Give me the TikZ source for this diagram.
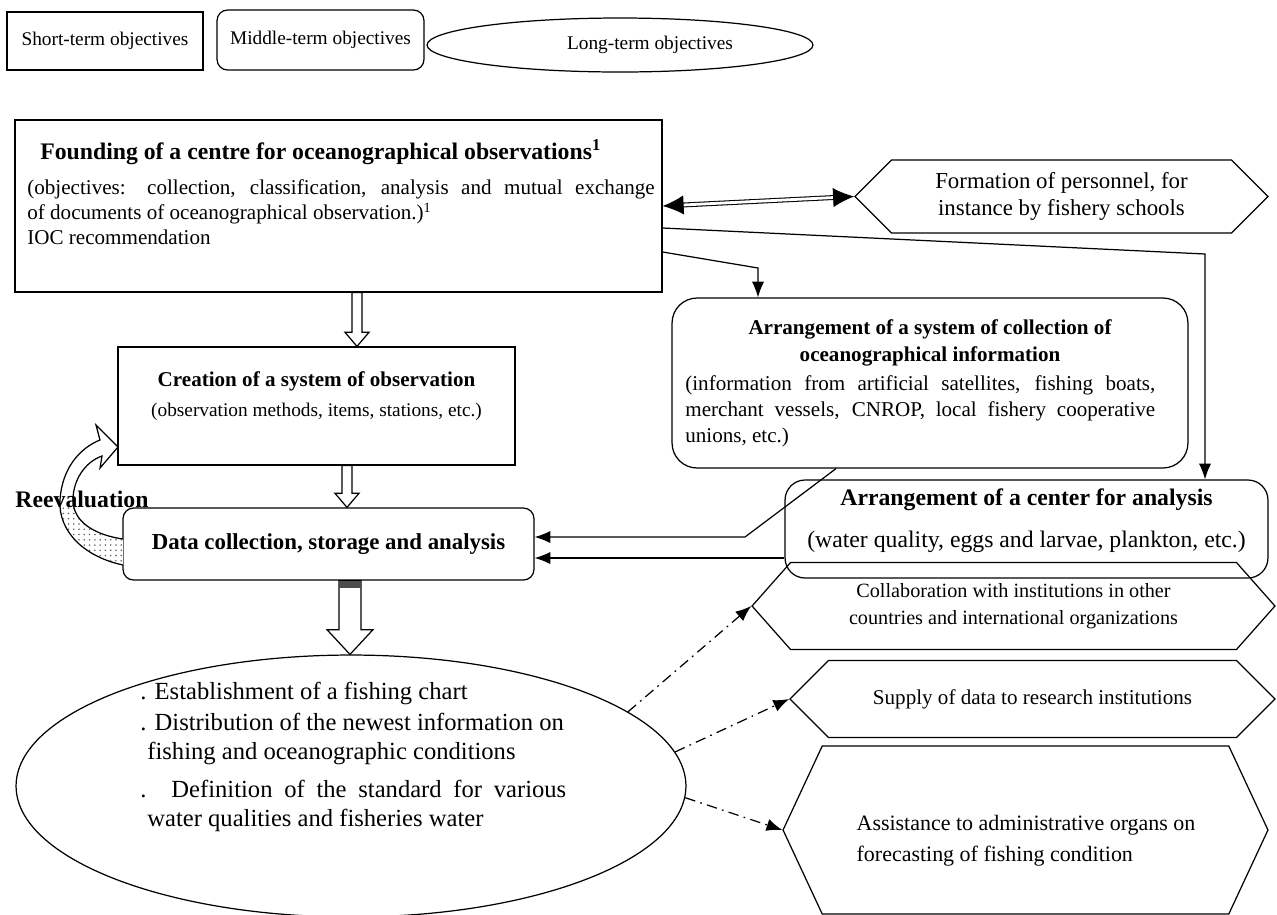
\documentclass[tikz,border=0pt]{standalone}
\usepackage{fontspec}
\setmainfont{Liberation Serif}
\usetikzlibrary{%
  arrows.meta,%
  calc,%
  patterns,%
  positioning,%
  shapes.geometric,%
  shapes.symbols%
}
\tikzset{>={Latex[length=9pt,width=7pt]}}
\tikzset{
  sqbox/.style={draw, line width=0.7pt, rectangle, inner sep=0pt},
  rndbox/.style={draw, line width=0.7pt, rectangle, rounded corners=#1, inner sep=0pt},
  rndbox/.default=6pt,
  hexa/.style={draw, line width=0.7pt, signal, signal to=west and east, inner sep=0pt},
  oval/.style={draw, line width=0.7pt, ellipse, inner sep=0pt},
  txt/.style={inner sep=0pt, align=left},
  chainline/.style={line width=0.7pt, dash pattern=on 6pt off 3pt on 1pt off 3pt},
  link/.style={line width=0.7pt},
}
% hollow block arrow: start, end, shaft half width, head half width, head length
\newcommand{\blockarrow}[5]{%
  \draw[line width=0.7pt, fill=white] let \p1=(#1), \p2=(#2) in
    (\x1-#3,\y1) -- (\x1-#3,\y2+#5) -- (\x1-#4,\y2+#5) -- (\x1,\y2)
    -- (\x1+#4,\y2+#5) -- (\x1+#3,\y2+#5) -- (\x1+#3,\y1) -- cycle;}

\begin{document}
\begin{tikzpicture}[x=0.02cm, y=-0.02cm]
  \useasboundingbox (0,0) rectangle (1277,914);
  \clip (0,0) rectangle (1277,914);

  % legend
  \node[sqbox, minimum width=3.92cm, minimum height=1.16cm, font=\fontsize{11}{13}\selectfont] (short) at (105,41) {Short-term objectives};
  \node[rndbox, minimum width=4.14cm, minimum height=1.2cm, font=\fontsize{11}{13}\selectfont] (middle) at (320.5,40) {Middle-term objectives};
  \node[oval, minimum width=7.72cm, minimum height=1.08cm, font=\fontsize{11}{13}\selectfont] (long) at (620,45) {\hspace*{1.2cm}Long-term objectives};

  % founding of the centre
  \node[sqbox, minimum width=12.94cm, minimum height=3.44cm] (found) at (338.5,206) {};
  \node[txt, anchor=north west, font=\fontsize{12}{14.2}\selectfont] (foundtxt) at (27,139)
    {\hspace*{0.26cm}{\fontsize{13.5}{15}\selectfont\bfseries Founding of a centre for oceanographical observations\textsuperscript{1}}\\[6pt]
     \makebox[12.55cm][s]{(objectives: collection, classification, analysis and mutual exchange}\\
     of documents of oceanographical observation.)\textsuperscript{1}\\
     IOC recommendation};

  \node[hexa, minimum width=8.26cm, minimum height=1.46cm, align=center, font=\fontsize{13}{15}\selectfont] (form) at (1061.5,196.5)
    {Formation of personnel, for\\instance by fishery schools};
  \draw[line width=0.6pt, double, double distance=1.6pt, {Latex[length=12pt,width=11pt]}-{Latex[length=12pt,width=11pt]}] (found.east) -- (form.west);

  % system of observation
  \node[sqbox, minimum width=7.94cm, minimum height=2.36cm] (create) at (316.5,406) {};
  \node[txt, align=center, font=\fontsize{11}{14}\selectfont] (createtxt) at (316.5,396)
    {{\fontsize{12}{14}\selectfont\bfseries Creation of a system of observation}\\[3pt]
     (observation methods, items, stations, etc.)};
  \node[rndbox, minimum width=8.22cm, minimum height=1.44cm, font=\fontsize{13}{15}\selectfont\bfseries] (data) at (328.5,544)
    {Data collection, storage and analysis};

  % collection of information
  \node[rndbox=0.5cm, minimum width=10.32cm, minimum height=3.4cm] (collect) at (930,383) {};
  \node[txt, align=center, font=\fontsize{12}{15}\selectfont\bfseries] (collecttitle) at (930,343)
    {Arrangement of a system of collection of\\oceanographical information};
  \node[txt, anchor=north west, font=\fontsize{12}{15}\selectfont] (collectbody) at (685,375)
    {\makebox[9.4cm][s]{(information from artificial satellites, fishing boats,}\\
     \makebox[9.4cm][s]{merchant vessels, CNROP, local fishery cooperative}\\
     unions, etc.)};

  % centre for analysis
  \node[rndbox=0.4cm, minimum width=9.66cm, minimum height=1.96cm] (analysis) at (1026.5,529) {};
  \node[txt, align=center, font=\fontsize{13.5}{15}\selectfont] (analysistxt) at (1026.5,521)
    {{\bfseries Arrangement of a center for analysis}\\[9pt]
     (water quality, eggs and larvae, plankton, etc.)};

  % links between the boxes
  \coordinate (bendA) at (1205,254);
  \draw[link, ->] ([yshift=-0.44cm]found.east) -- (bendA) -- (bendA |- analysis.north);
  \coordinate (bendB) at (758,268);
  \draw[link, ->] ([yshift=-0.92cm]found.east) -- (bendB) -- (bendB |- collect.north);
  \coordinate (bendC) at (745,537);
  \draw[link, ->] ([xshift=-1.88cm]collect.south) -- (bendC) -- (bendC -| data.east);
  \coordinate (anaL) at ([yshift=-0.58cm]analysis.west);
  \draw[link, ->] (anaL) -- (anaL -| data.east);

  % outcome
  \node[oval, minimum width=13.4cm, minimum height=5.24cm] (outcome) at (351,786) {};
  \node[txt, anchor=north west, font=\fontsize{14}{16.5}\selectfont] (outtxt) at (140,682)
    {. Establishment of a fishing chart\\[1pt]
     . Distribution of the newest information on\\
     \hspace*{4pt}fishing and oceanographic conditions\\[5pt]
     \makebox[8.52cm][s]{. Definition of the standard for various}\\
     \hspace*{4pt}water qualities and fisheries water};

  \blockarrow{[xshift=0.37cm]found.south}{[xshift=0.81cm]create.north}{2.8pt}{6.8pt}{8pt}
  \blockarrow{[xshift=0.61cm]create.south}{[xshift=0.37cm]data.north}{2.8pt}{6.8pt}{8pt}
  \blockarrow{[xshift=0.43cm]data.south}{[xshift=0cm]outcome.north}{6.3pt}{13pt}{14pt}
  \fill[black!70] let \p1=([xshift=0.43cm]data.south) in (\x1-6.3pt,\y1) rectangle (\x1+6.3pt,\y1-4pt);

  % reevaluation loop
  \fill[white] (123,565) .. controls (85,557) and (58,532) .. (60,500)
    .. controls (62,468) and (80,448) .. (100,440) -- (96,425) -- (118,447)
    -- (100,468) -- (102,456) .. controls (85,462) and (73,480) .. (73,500)
    .. controls (73,522) and (95,535) .. (123,539) -- cycle;
  \begin{scope}
    \clip (40,505) rectangle (123,570);
    \fill[pattern=dots, pattern color=black!60] (123,565) .. controls (85,557) and (58,532) .. (60,500)
      -- (73,500) .. controls (73,522) and (95,535) .. (123,539) -- cycle;
  \end{scope}
  \draw[line width=0.7pt] (123,565) .. controls (85,557) and (58,532) .. (60,500)
    .. controls (62,468) and (80,448) .. (100,440) -- (96,425) -- (118,447)
    -- (100,468) -- (102,456) .. controls (85,462) and (73,480) .. (73,500)
    .. controls (73,522) and (95,535) .. (123,539);
  \node[txt, font=\fontsize{13.5}{15}\selectfont\bfseries] (reeval) at (82,499) {Reevaluation};

  % spread of the results
  \node[hexa, signal pointer angle=97, minimum width=10.46cm, minimum height=1.74cm, align=center, font=\fontsize{11.5}{15.5}\selectfont] (collab) at (1013.5,606)
    {Collaboration with institutions in other\\countries and international organizations};
  \node[hexa, minimum width=9.7cm, minimum height=1.54cm, font=\fontsize{12}{14}\selectfont] (supply) at (1032.5,699)
    {Supply of data to research institutions};
  \node[hexa, signal pointer angle=130, minimum width=9.7cm, minimum height=3.36cm] (assist) at (1025.5,830) {};
  \node[txt, font=\fontsize{12.5}{17.5}\selectfont] (assisttxt) at (1026,841)
    {Assistance to administrative organs on\\forecasting of fishing condition};

  \draw[chainline, ->] (outcome.15) -- (collab.west);
  \draw[chainline, ->] (outcome.6) -- (supply.west);
  \draw[chainline, ->] (outcome.-2) -- (assist.west);
\end{tikzpicture}
\end{document}
